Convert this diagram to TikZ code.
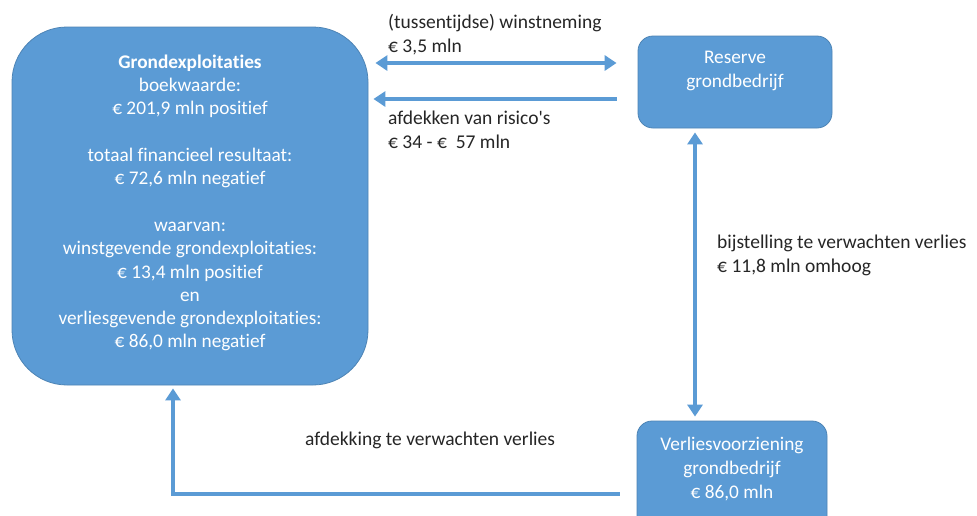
\documentclass[tikz,border=0pt]{standalone}
\usepackage{fontspec}
\setmainfont{Carlito}[Ligatures={NoCommon}]
\usetikzlibrary{arrows.meta,calc}
\definecolor{boxblue}{HTML}{5B9BD5}
\definecolor{txt}{HTML}{262626}
\tikzset{
  bluebox/.style={fill=boxblue, draw=boxblue!85!black, line width=0.8pt, inner sep=0pt},
  boxtext/.style={text=white, align=center, font=\fontsize{19.3}{23.3}\selectfont, inner sep=0pt},
  lbl/.style={text=txt, align=left, anchor=west, font=\fontsize{19.5}{24}\selectfont, inner sep=0pt},
  arr/.style={draw=boxblue, line width=4pt, -{Triangle[length=12pt,width=15pt]}},
  darr/.style={draw=boxblue, line width=4pt, {Triangle[length=12pt,width=15pt]}-{Triangle[length=12pt,width=15pt]}},
}
\begin{document}
\begin{tikzpicture}[x=1pt,y=-1pt]
\useasboundingbox[fill=white] (0,0) rectangle (977,515);
% boxes
\node[bluebox, rounded corners=55pt, minimum width=356pt, minimum height=358pt] (big) at (190,206) {};
\node[bluebox, rounded corners=15pt, minimum width=194pt, minimum height=92pt] (res) at (735,82) {};
\node[bluebox, rounded corners=15pt, minimum width=190pt, minimum height=110pt] (ver) at (732,476) {};
% box texts
\node[boxtext] (bigt) at (190,203) {\textbf{Grondexploitaties}\\boekwaarde:\\€ 201,9 mln positief\\[23.3pt]totaal financieel resultaat:\\€ 72,6 mln negatief\\[23.3pt]waarvan:\\winstgevende grondexploitaties:\\€ 13,4 mln positief\\en\\verliesgevende grondexploitaties:\\€ 86,0 mln negatief};
\node[boxtext] (rest) at (735,71) {Reserve\\grondbedrijf};
\node[boxtext, font=\fontsize{19.3}{24}\selectfont] (vert) at (732,469) {Verliesvoorziening\\grondbedrijf\\€ 86,0 mln};
% connectors
\draw[darr] ([xshift=7pt]big.east |- 0,63) -- ([xshift=-21pt]res.west |- 0,63);
\draw[arr] ([xshift=-21pt]res.west |- 0,99) -- ([xshift=5pt]big.east |- 0,99);
\draw[darr] ([yshift=-4pt]res.south -| 695,0) -- ([yshift=4pt]ver.north -| 695,0);
\draw[arr] ([xshift=-17pt]ver.west |- 0,494) -| ([yshift=-3pt]big.south -| 173,0);
% labels
\node[lbl] (l1) at (388,35) {(tussentijdse) winstneming\\€ 3,5 mln};
\node[lbl] (l2) at (388,130) {afdekken van risico\textquotesingle s\\€ 34 - €~~57 mln};
\node[lbl] (l3) at (717,255) {bijstelling te verwachten verlies\\€ 11,8 mln omhoog};
\node[lbl] (l4) at (305,440) {afdekking te verwachten verlies};
\end{tikzpicture}
\end{document}
